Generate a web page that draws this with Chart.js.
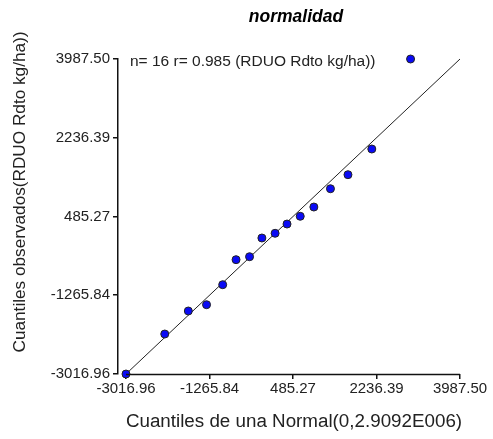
<!DOCTYPE html>
<html>
<head>
<meta charset="utf-8">
<script src="https://cdn.jsdelivr.net/npm/chart.js@4/dist/chart.umd.min.js"></script>
<style>
  body { margin: 0; background: #fff; }
  #wrap { width: 493px; height: 439px; }
</style>
</head>
<body>
<div id="wrap"><canvas id="qq" width="493" height="439"></canvas></div>
<script>
const normalQuantiles = [-3017, -2204, -1710, -1328, -989, -709, -426, -167, 110, 360, 637, 923, 1271, 1638, 2138, 2951];
const observedQuantiles = [-3017, -2128, -1616, -1476, -1031, -475, -409, 7, 112, 318, 490, 696, 1103, 1415, 1986, 3987.5];
const tickLabels = ['-3016.96', '-1265.84', '485.27', '2236.39', '3987.50'];
const axisMin = -3016.96;
const axisMax = 3987.50;

const chartTitle = 'normalidad';
const note = 'n= 16 r= 0.985 (RDUO Rdto kg/ha))';
const xTitle = 'Cuantiles de una Normal(0,2.9092E006)';
const yTitle = 'Cuantiles observados(RDUO Rdto kg/ha))';

const tickValues = tickLabels.map(Number);
const ink = '#222';
const axisInk = '#111';
const FONT = '"Liberation Sans", Arial, sans-serif';

const points = normalQuantiles.map((x, i) => ({ x: x, y: observedQuantiles[i] }));

// x axis starts a bit left of the data so the y axis sits apart from the first point
const xPad = 8 * (axisMax - axisMin) / 334;

const textPlugin = {
  id: 'texts',
  afterDraw(chart) {
    const ctx = chart.ctx;
    const xs = chart.scales.x, ys = chart.scales.y;
    ctx.save();
    // x axis line (starts at the data minimum)
    ctx.strokeStyle = axisInk;
    ctx.lineWidth = 1.5;
    ctx.beginPath();
    ctx.moveTo(xs.getPixelForValue(axisMin), ys.bottom + 0.5);
    ctx.lineTo(xs.getPixelForValue(axisMax), ys.bottom + 0.5);
    ctx.stroke();

    ctx.fillStyle = '#000';
    ctx.textBaseline = 'middle';
    ctx.textAlign = 'center';
    ctx.font = 'italic bold 17.5px ' + FONT;
    ctx.fillText(chartTitle, 296, 17);

    ctx.fillStyle = ink;
    ctx.textAlign = 'left';
    ctx.font = '15.5px ' + FONT;
    ctx.fillText(note, 130, 62);

    ctx.textAlign = 'center';
    ctx.font = '18.8px ' + FONT;
    ctx.fillText(xTitle, 294, 422);

    ctx.font = '17.2px ' + FONT;
    ctx.translate(20, 192);
    ctx.rotate(-Math.PI / 2);
    ctx.fillText(yTitle, 0, 0);
    ctx.restore();
  }
};

new Chart(document.getElementById('qq'), {
  type: 'scatter',
  data: {
    datasets: [
      {
        label: 'observados',
        data: points,
        backgroundColor: '#0a0af5',
        borderColor: '#222',
        borderWidth: 1,
        pointRadius: 4,
        clip: false,
        order: 1
      },
      {
        type: 'line',
        label: 'y = x',
        data: [{ x: axisMin, y: axisMin }, { x: axisMax, y: axisMax }],
        borderColor: ink,
        borderWidth: 1,
        pointRadius: 0,
        clip: false,
        order: 2
      }
    ]
  },
  options: {
    responsive: false,
    animation: false,
    layout: { padding: { top: 59, right: 33, left: 0, bottom: 0 } },
    plugins: { legend: { display: false }, tooltip: { enabled: false }, title: { display: false } },
    scales: {
      x: {
        type: 'linear',
        min: axisMin - xPad,
        max: axisMax,
        afterBuildTicks: (s) => { s.ticks = tickValues.map(v => ({ value: v })); },
        afterFit: (s) => { s.height = 65; },
        border: { display: false },
        grid: { drawOnChartArea: false, drawTicks: true, tickLength: 5, color: axisInk, lineWidth: 1.5 },
        ticks: {
          color: ink,
          padding: 1,
          maxRotation: 0,
          autoSkip: false,
          font: { family: FONT, size: 15 },
          callback: (v) => tickLabels[tickValues.indexOf(v)]
        }
      },
      y: {
        type: 'linear',
        min: axisMin,
        max: axisMax,
        afterBuildTicks: (s) => { s.ticks = tickValues.map(v => ({ value: v })); },
        afterFit: (s) => { s.width = 118; },
        border: { display: true, color: axisInk, width: 1.5 },
        grid: { drawOnChartArea: false, drawTicks: true, tickLength: 5, color: axisInk, lineWidth: 1.5 },
        ticks: {
          color: ink,
          padding: 3,
          autoSkip: false,
          font: { family: FONT, size: 15 },
          callback: (v) => tickLabels[tickValues.indexOf(v)]
        }
      }
    }
  },
  plugins: [textPlugin]
});
</script>
</body>
</html>
